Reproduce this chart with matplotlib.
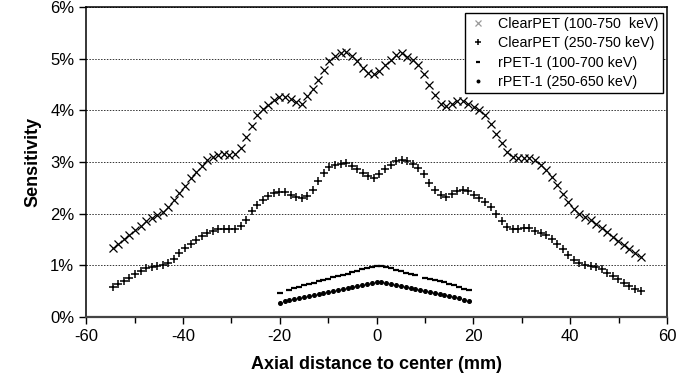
import numpy as np
import matplotlib
matplotlib.use('Agg')
import matplotlib.pyplot as plt
from matplotlib.ticker import MultipleLocator, PercentFormatter

plt.rcParams['font.family'] = ['Liberation Sans', 'DejaVu Sans']
plt.rcParams['axes.unicode_minus'] = False

# ClearPET axial sampling (mm)
x_clear = np.linspace(-54.5, 54.5, 96)

# ClearPET (100-750 keV), sensitivity in %
clear_wide = [
    1.33, 1.42, 1.51, 1.59, 1.68, 1.77, 1.85, 1.92, 1.98, 2.04,
    2.12, 2.26, 2.40, 2.54, 2.68, 2.81, 2.92, 3.03, 3.10, 3.14,
    3.15, 3.14, 3.15, 3.27, 3.48, 3.70, 3.90, 4.02, 4.10, 4.20,
    4.26, 4.25, 4.22, 4.17, 4.13, 4.28, 4.42, 4.58, 4.78, 4.95,
    5.05, 5.10, 5.12, 5.06, 4.96, 4.82, 4.72, 4.70, 4.76, 4.87,
    4.98, 5.07, 5.10, 5.04, 4.98, 4.88, 4.70, 4.48, 4.30, 4.12,
    4.08, 4.13, 4.18, 4.18, 4.13, 4.06, 4.00, 3.90, 3.74, 3.55,
    3.36, 3.20, 3.10, 3.08, 3.08, 3.07, 3.03, 2.95, 2.84, 2.70,
    2.55, 2.38, 2.22, 2.08, 2.00, 1.94, 1.87, 1.80, 1.73, 1.64,
    1.55, 1.47, 1.39, 1.31, 1.24, 1.16,
]

# ClearPET (250-750 keV)
clear_narrow = [
    0.58, 0.63, 0.69, 0.76, 0.83, 0.89, 0.94, 0.97, 0.99, 1.00,
    1.04, 1.13, 1.24, 1.33, 1.41, 1.49, 1.56, 1.62, 1.67, 1.70,
    1.70, 1.70, 1.71, 1.76, 1.88, 2.05, 2.17, 2.27, 2.35, 2.40,
    2.42, 2.41, 2.37, 2.32, 2.30, 2.35, 2.46, 2.64, 2.79, 2.90,
    2.95, 2.97, 2.98, 2.93, 2.86, 2.79, 2.72, 2.69, 2.76, 2.86,
    2.95, 3.02, 3.04, 3.02, 2.97, 2.89, 2.77, 2.60, 2.46, 2.36,
    2.33, 2.38, 2.44, 2.46, 2.43, 2.37, 2.31, 2.23, 2.12, 2.00,
    1.86, 1.75, 1.70, 1.70, 1.72, 1.72, 1.67, 1.63, 1.58, 1.51,
    1.41, 1.31, 1.19, 1.10, 1.04, 1.00, 0.99, 0.97, 0.92, 0.85,
    0.79, 0.73, 0.65, 0.59, 0.55, 0.50,
]

# rPET-1 axial sampling (mm)
x_rpet = np.arange(-20, 20, 1.0)

# rPET-1 (100-700 keV), nan = gap in the dashes
rpet_wide = [
    0.46, np.nan, 0.53, 0.56, 0.58, 0.61, 0.64, 0.66, 0.69, 0.72,
    0.74, 0.77, 0.79, 0.82, 0.84, 0.87, 0.89, 0.92, 0.95, 0.97,
    0.99, 0.98, 0.96, 0.94, 0.91, 0.89, 0.86, 0.84, 0.81, np.nan,
    0.76, 0.73, 0.71, 0.69, 0.67, 0.64, 0.61, 0.58, 0.55, 0.52,
]

# rPET-1 (250-650 keV)
rpet_narrow = [
    0.27, 0.30, 0.33, 0.35, 0.37, 0.39, 0.41, 0.43, 0.45, 0.46,
    0.48, 0.50, 0.52, 0.54, 0.56, 0.58, 0.60, 0.62, 0.64, 0.66,
    0.68, 0.68, 0.66, 0.64, 0.62, 0.60, 0.58, 0.56, 0.54, 0.52,
    0.50, 0.48, 0.46, 0.44, 0.42, 0.40, 0.38, 0.36, 0.33, 0.30,
]


def main():
    fig = plt.figure(figsize=(6.78, 3.87), dpi=100)
    ax = fig.add_axes([0.127, 0.181, 0.857, 0.801])

    ax.plot(x_clear, clear_wide, ls='none', marker='x', ms=5.8, mew=0.9,
            color='black', label='ClearPET (100-750  keV)')
    ax.plot(x_clear, clear_narrow, ls='none', marker='+', ms=6, mew=1.1,
            color='black', label='ClearPET (250-750 keV)')
    ax.plot(x_rpet, rpet_wide, ls='none', marker='_', ms=5, mew=1.6,
            color='black', label='rPET-1 (100-700 keV)')
    ax.plot(x_rpet, rpet_narrow, ls='none', marker='o', ms=2.6,
            color='black', label='rPET-1 (250-650 keV)')

    ax.set_xlim(-60, 60)
    ax.set_ylim(0, 6)
    ax.xaxis.set_major_locator(MultipleLocator(20))
    ax.xaxis.set_minor_locator(MultipleLocator(10))
    ax.yaxis.set_major_locator(MultipleLocator(1))
    ax.yaxis.set_major_formatter(PercentFormatter(decimals=0))
    ax.tick_params(axis='both', which='major', direction='out', length=5,
                   width=1, labelsize=12, colors='black')
    ax.tick_params(axis='x', which='minor', direction='out', length=4, width=1)

    ax.grid(axis='y', color='#333333', ls=(0, (1.5, 1.5)), lw=0.7)
    for s in ax.spines.values():
        s.set_linewidth(1.1)
    ax.spines['bottom'].set_linewidth(1.6)
    ax.spines['bottom'].set_color('#444444')

    ax.set_xlabel('Axial distance to center (mm)', fontsize=13,
                  fontweight='bold', labelpad=9)
    ax.set_ylabel('Sensitivity', fontsize=13, fontweight='bold', labelpad=6)

    leg = ax.legend(loc='upper right', fontsize=10.3, frameon=True,
                    fancybox=False, edgecolor='black', framealpha=1,
                    handlelength=1.3, handletextpad=0.7, borderpad=0.3,
                    labelspacing=0.36, markerscale=0.7,
                    borderaxespad=0.2, bbox_to_anchor=(0.997, 0.99))
    leg.get_frame().set_linewidth(1.0)
    leg.legend_handles[0].set_color('#999999')

    fig.savefig('out.png', dpi=100)
    plt.close(fig)


if __name__ == '__main__':
    main()
